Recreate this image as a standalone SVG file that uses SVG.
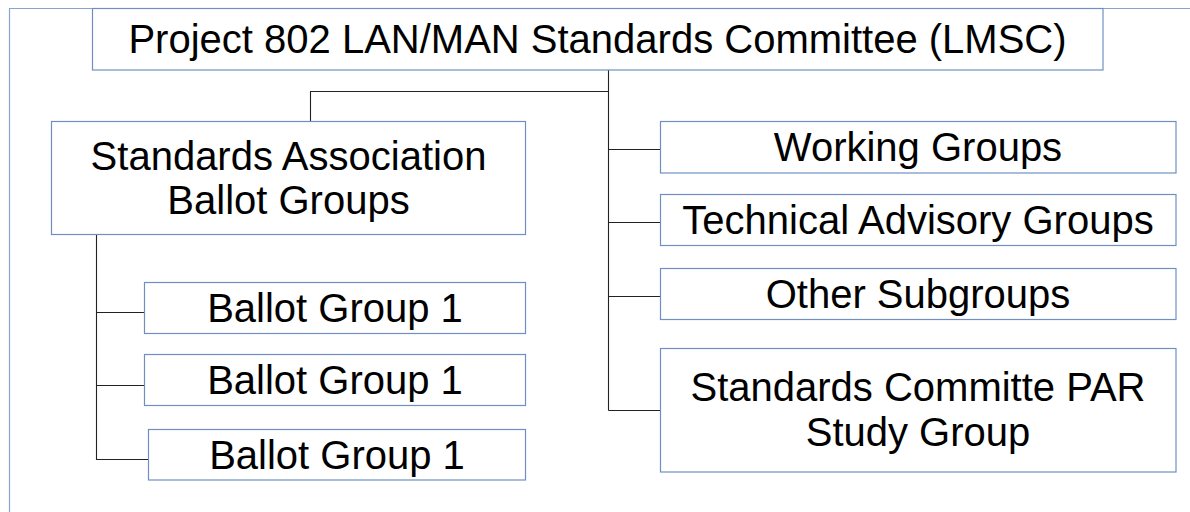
<svg xmlns="http://www.w3.org/2000/svg" width="1190" height="512" viewBox="0 0 1190 512">
<style>
.box{fill:#fff;stroke:#6f8fc4;stroke-width:1.2}
.frame{fill:none;stroke:#8aa4d0;stroke-width:1.2}
.con{fill:none;stroke:#222;stroke-width:1.1}
text{font-family:"Liberation Sans",Arial,sans-serif;font-size:40px;fill:#000;text-anchor:middle}
</style>
<rect width="1190" height="512" fill="#fff"/>
<path class="frame" d="M1190,8.5 H9.5 V512"/>
<g id="connectors">
<path class="con" d="M608.5,70 V410.5 M608.5,91.5 H310.5 V121"/>
<path class="con" d="M608.5,149.5 H660 M608.5,222.5 H660 M608.5,296.5 H660 M608.5,410.5 H660"/>
<path class="con" d="M96.5,234 V459.5 H148 M96.5,312.5 H148 M96.5,385.5 H148"/>
</g>
<g id="lmsc">
<rect class="box" x="92.5" y="8.5" width="1010.5" height="61.5"/>
<text x="597.5" y="53">Project 802 LAN/MAN Standards Committee (LMSC)</text>
</g>
<g id="sa-ballot-groups">
<rect class="box" x="51.5" y="121.5" width="474" height="113"/>
<text x="288.5" y="170">Standards Association</text>
<text x="288.5" y="214">Ballot Groups</text>
</g>
<g id="ballot-group-1a">
<rect class="box" x="144.5" y="282.5" width="381" height="51"/>
<text x="335" y="321.5">Ballot Group 1</text>
</g>
<g id="ballot-group-1b">
<rect class="box" x="144.5" y="354.5" width="381" height="51"/>
<text x="335" y="394">Ballot Group 1</text>
</g>
<g id="ballot-group-1c">
<rect class="box" x="148.5" y="429.5" width="377" height="50.5"/>
<text x="337" y="468.5">Ballot Group 1</text>
</g>
<g id="working-groups">
<rect class="box" x="660.5" y="121.5" width="515.5" height="51.5"/>
<text x="918" y="161">Working Groups</text>
</g>
<g id="technical-advisory-groups">
<rect class="box" x="660.5" y="194.5" width="515.5" height="51"/>
<text x="918" y="233.5">Technical Advisory Groups</text>
</g>
<g id="other-subgroups">
<rect class="box" x="660.5" y="268.5" width="515.5" height="51"/>
<text x="918" y="307.5">Other Subgroups</text>
</g>
<g id="par-study-group">
<rect class="box" x="660.5" y="348.5" width="515.5" height="123.5"/>
<text x="918" y="401">Standards Committe PAR</text>
<text x="918" y="446">Study Group</text>
</g>
</svg>
